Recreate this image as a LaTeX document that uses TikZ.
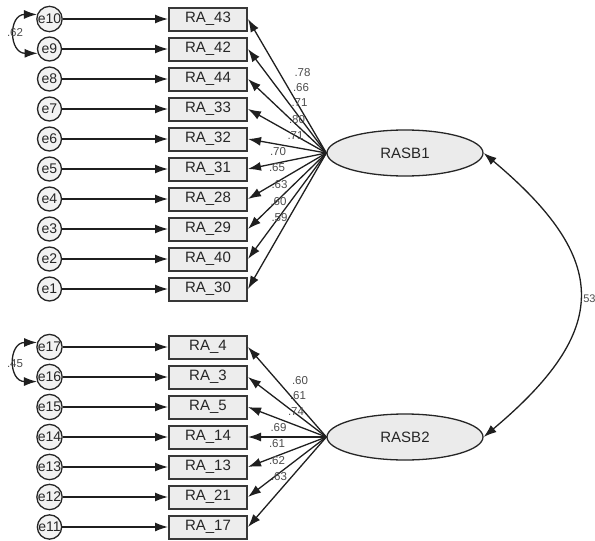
\documentclass[tikz,border=0pt]{standalone}
\usepackage{fontspec}
\setmainfont{Liberation Sans}
\usetikzlibrary{arrows.meta,shapes.geometric}
\begin{document}
\begin{tikzpicture}[x=1pt,y=1pt,
 errc/.style={circle,draw=black!85,fill=black!5,line width=1.3pt,minimum size=24pt,inner sep=0pt,font=\fontsize{14}{14}\selectfont,text=black!85},
 obs/.style={rectangle,draw=black!78,fill=black!7,line width=2pt,minimum width=78pt,minimum height=23pt,inner sep=0pt,font=\fontsize{15}{15}\selectfont,text=black!85},
 lat/.style={ellipse,draw=black!85,fill=black!8,line width=1.3pt,minimum width=156pt,minimum height=46pt,inner sep=0pt,font=\fontsize{15}{15}\selectfont,text=black!85},
 arr/.style={-{Latex[length=13pt,width=9pt]},line width=1.3pt,draw=black!88},
 cov/.style={{Latex[length=13pt,width=9pt]}-{Latex[length=13pt,width=9pt]},line width=1.3pt,draw=black!88},
 lab/.style={font=\fontsize{11.5}{11.5}\selectfont,text=black!70,inner sep=0pt}]
\useasboundingbox (0,0) rectangle (595,-541);

% top group
\foreach \k/\e/\b in {0/10/43,1/9/42,2/8/44,3/7/33,4/6/32,5/5/31,6/4/28,7/3/29,8/2/40,9/1/30}{
  \node[errc] (e\e) at (49.5,{-19-30*\k}) {e\e};
  \node[obs] (r\b) at (208,{-19-30*\k}) {RA\_\b};
  \draw[arr] (e\e) -- (r\b);
}
% bottom group
\foreach \k/\e/\b in {0/17/4,1/16/3,2/15/5,3/14/14,4/13/13,5/12/21,6/11/17}{
  \node[errc] (e\e) at (49.5,{-347-30*\k}) {e\e};
  \node[obs] (r\b) at (208,{-347-30*\k}) {RA\_\b};
  \draw[arr] (e\e) -- (r\b);
}

\node[lat] (RASB1) at (405,-153) {RASB1};
\node[lat] (RASB2) at (405,-437) {RASB2};

\foreach \b in {43,42,44,33,32,31,28,29,40,30}{
  \draw[arr] (RASB1.west) -- (r\b.east);
}
\foreach \b in {4,3,5,14,13,21,17}{
  \draw[arr] (RASB2.west) -- (r\b.east);
}

% loading labels
\node[lab] (l1) at (302.5,-73) {.78};
\node[lab] (l2) at (301,-88) {.66};
\node[lab] (l3) at (299.5,-103) {.71};
\node[lab] (l4) at (297,-120) {.80};
\node[lab] (l5) at (295.5,-136) {.71};
\node[lab] (l6) at (278,-151.5) {.70};
\node[lab] (l7) at (277,-168) {.65};
\node[lab] (l8) at (279.5,-185) {.63};
\node[lab] (l9) at (278.5,-201.5) {.60};
\node[lab] (l10) at (279.5,-218) {.59};

\node[lab] (m1) at (300,-380.5) {.60};
\node[lab] (m2) at (298,-396) {.61};
\node[lab] (m3) at (296,-411.5) {.74};
\node[lab] (m4) at (278.5,-427.5) {.69};
\node[lab] (m5) at (277,-443.5) {.61};
\node[lab] (m6) at (277,-460.5) {.62};
\node[lab] (m7) at (279,-477) {.63};

% covariances
\draw[cov] (e10.160) to[out=180,in=180,looseness=1.9] (e9.200);
\node[lab] (c1) at (15,-33) {.62};
\draw[cov] (e17.160) to[out=180,in=180,looseness=1.9] (e16.200);
\node[lab] (c2) at (15,-364) {.45};
\draw[cov] (RASB1.east) to[out=-40,in=40,looseness=1.5] (RASB2.east);
\node[lab,anchor=west,font=\fontsize{11}{11}\selectfont] (c3) at (580,-299) {.53};
\end{tikzpicture}
\end{document}
